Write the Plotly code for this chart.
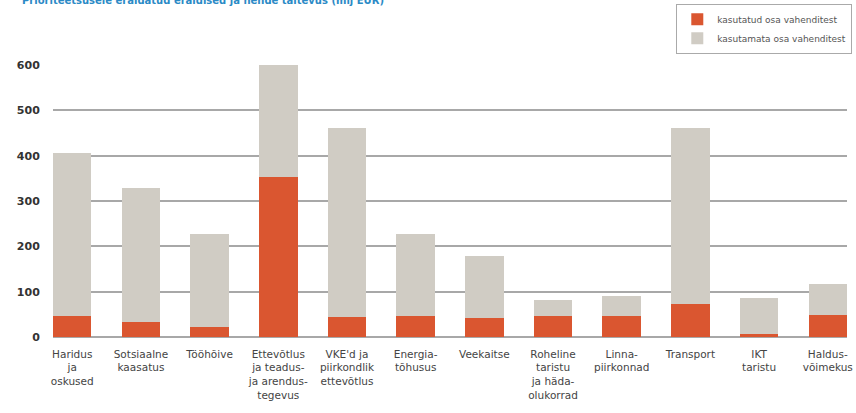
import plotly.graph_objects as go

categories = [
    "Haridus<br>ja<br>oskused",
    "Sotsiaalne<br>kaasatus",
    "Tööhõive",
    "Ettevõtlus<br>ja teadus-<br>ja arendus-<br>tegevus",
    "VKE'd ja<br>piirkondlik<br>ettevõtlus",
    "Energia-<br>tõhusus",
    "Veekaitse",
    "Roheline<br>taristu<br>ja häda-<br>olukorrad",
    "Linna-<br>piirkonnad",
    "Transport",
    "IKT<br>taristu",
    "Haldus-<br>võimekus",
]
used = [47, 32, 23, 352, 45, 46, 41, 46, 46, 73, 6, 48]
unused = [358, 296, 204, 248, 416, 181, 138, 36, 44, 388, 79, 68]
y_ticks = [0, 100, 200, 300, 400, 500, 600]
series_names = ["kasutatud osa vahenditest", "kasutamata osa vahenditest"]
title_text = "Prioriteetsusele eraldatud eraldised ja nende täitevus (mlj EUR)"

ORANGE = "#da5630"
GREY = "#d0ccc4"
FONT = "DejaVu Sans"

fig = go.Figure()
fig.add_trace(go.Bar(x=categories, y=used, name=series_names[0],
                     marker=dict(color=ORANGE, line=dict(width=0)), width=0.56))
fig.add_trace(go.Bar(x=categories, y=unused, name=series_names[1],
                     marker=dict(color=GREY, line=dict(width=0)), width=0.56))

fig.update_layout(
    barmode="stack",
    width=856, height=413,
    margin=dict(l=53, r=9, t=65, b=76, autoexpand=False),
    paper_bgcolor="white", plot_bgcolor="white",
    font=dict(family=FONT, size=10, color="#444"),
    showlegend=True,
    legend=dict(
        x=0.785, y=1.225, xanchor="left", yanchor="top",
        bordercolor="#aaaaaa", borderwidth=1, bgcolor="white",
        font=dict(size=9, color="#555"),
        traceorder="normal", itemwidth=30, tracegroupgap=0,
        itemsizing="constant",
    ),
    xaxis=dict(
        type="category",
        range=[-0.28, 11.28],
        showgrid=False, showline=False, zeroline=False,
        ticks="outside", ticklen=7, tickcolor="rgba(0,0,0,0)",
        tickfont=dict(family=FONT, size=10.5, color="#444"),
        fixedrange=True, automargin=False,
    ),
    yaxis=dict(
        range=[0, 600],
        tickvals=y_ticks,
        showgrid=True, gridcolor="#a8a8a8", gridwidth=1.5,
        zeroline=True, zerolinecolor="#a8a8a8", zerolinewidth=1.5,
        showline=False,
        ticks="outside", ticklen=10, tickcolor="rgba(0,0,0,0)",
        tickfont=dict(family=FONT, size=11, color="#333", weight="bold"),
        fixedrange=True, automargin=False,
    ),
    annotations=[dict(
        text="<b>" + title_text + "</b>",
        xref="paper", yref="paper", x=-0.0416, y=1.237,
        xanchor="left", yanchor="middle", showarrow=False,
        font=dict(family=FONT, size=10, color="#2b8ac6"),
    )],
)

fig.write_html(
    "out.html",
    config={"displayModeBar": False},
    post_script="document.body.style.margin='0';document.body.style.overflow='hidden';",
)
